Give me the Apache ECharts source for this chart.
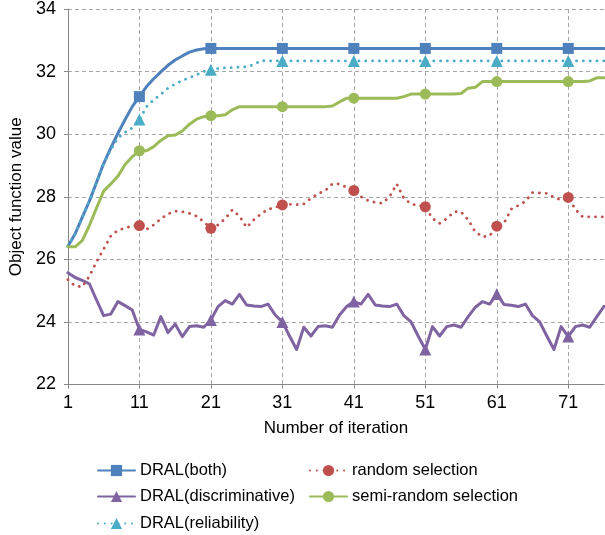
<!DOCTYPE html>
<html>
<head>
<meta charset="utf-8">
<script src="https://cdn.jsdelivr.net/npm/echarts@6/dist/echarts.min.js"></script>
<style>
html,body{margin:0;padding:0;background:#fff;}
#chart{width:605px;height:535px;}
</style>
</head>
<body>
<div id="chart"></div>
<script>
const iterations = ['1','2','3','4','5','6','7','8','9','10',
  '11','12','13','14','15','16','17','18','19','20',
  '21','22','23','24','25','26','27','28','29','30',
  '31','32','33','34','35','36','37','38','39','40',
  '41','42','43','44','45','46','47','48','49','50',
  '51','52','53','54','55','56','57','58','59','60',
  '61','62','63','64','65','66','67','68','69','70',
  '71','72','73','74','75','76'];

const dralBoth = [26.42, 26.81, 27.34, 27.86, 28.46, 29.06, 29.56, 30.03, 30.47, 30.88,
  31.2, 31.52, 31.77, 31.99, 32.2, 32.37, 32.5, 32.62, 32.69, 32.73,
  32.74, 32.74, 32.74, 32.74, 32.74, 32.74, 32.74, 32.74, 32.74, 32.74,
  32.74, 32.74, 32.74, 32.74, 32.74, 32.74, 32.74, 32.74, 32.74, 32.74,
  32.74, 32.74, 32.74, 32.74, 32.74, 32.74, 32.74, 32.74, 32.74, 32.74,
  32.74, 32.74, 32.74, 32.74, 32.74, 32.74, 32.74, 32.74, 32.74, 32.74,
  32.74, 32.74, 32.74, 32.74, 32.74, 32.74, 32.74, 32.74, 32.74, 32.74,
  32.74, 32.74, 32.74, 32.74, 32.74, 32.74];

const dralDiscriminative = [25.57, 25.42, 25.33, 25.22, 24.7, 24.2, 24.25, 24.65, 24.52, 24.38,
  23.76, 23.68, 23.58, 24.17, 23.66, 23.93, 23.53, 23.85, 23.88, 23.83,
  24.06, 24.49, 24.68, 24.57, 24.88, 24.54, 24.51, 24.49, 24.57, 24.22,
  24.0, 23.55, 23.12, 23.83, 23.55, 23.85, 23.88, 23.83, 24.22, 24.49,
  24.65, 24.57, 24.88, 24.54, 24.51, 24.49, 24.57, 24.2, 24.0, 23.55,
  23.12, 23.85, 23.55, 23.85, 23.9, 23.83, 24.17, 24.47, 24.65, 24.57,
  24.89, 24.56, 24.53, 24.49, 24.57, 24.2, 24.0, 23.55, 23.12, 23.85,
  23.53, 23.85, 23.9, 23.83, 24.17, 24.5];

const dralReliability = [26.42, 26.81, 27.34, 27.86, 28.46, 29.06, 29.5, 29.88, 30.06, 30.2,
  30.47, 30.88, 31.1, 31.27, 31.47, 31.6, 31.72, 31.8, 31.9, 32.0,
  32.06, 32.1, 32.12, 32.13, 32.14, 32.15, 32.22, 32.35, 32.34, 32.34,
  32.34, 32.34, 32.34, 32.34, 32.34, 32.34, 32.34, 32.34, 32.34, 32.34,
  32.34, 32.34, 32.34, 32.34, 32.34, 32.34, 32.34, 32.34, 32.34, 32.34,
  32.34, 32.34, 32.34, 32.34, 32.34, 32.34, 32.34, 32.34, 32.34, 32.34,
  32.34, 32.34, 32.34, 32.34, 32.34, 32.34, 32.34, 32.34, 32.34, 32.34,
  32.34, 32.34, 32.34, 32.34, 32.34, 32.34];

const randomSelection = [25.35, 25.15, 25.12, 25.46, 25.92, 26.33, 26.75, 26.93, 27.0, 27.07,
  27.08, 26.96, 27.1, 27.3, 27.45, 27.54, 27.52, 27.47, 27.38, 27.2,
  26.99, 27.1, 27.3, 27.58, 27.38, 27.02, 27.26, 27.45, 27.6, 27.66,
  27.74, 27.76, 27.75, 27.77, 27.95, 28.1, 28.2, 28.41, 28.41, 28.3,
  28.2, 28.0, 27.88, 27.82, 27.79, 28.0, 28.41, 27.95, 27.77, 27.72,
  27.68, 27.31, 27.15, 27.3, 27.52, 27.52, 27.26, 26.88, 26.72, 26.75,
  27.06, 27.15, 27.6, 27.72, 27.85, 28.13, 28.12, 28.11, 27.98, 27.9,
  27.98, 27.6, 27.36, 27.36, 27.36, 27.36];

const semiRandomSelection = [26.4, 26.4, 26.6, 27.08, 27.64, 28.18, 28.41, 28.66, 29.03, 29.28,
  29.47, 29.47, 29.6, 29.8, 29.95, 29.97, 30.1, 30.32, 30.48, 30.56,
  30.59, 30.59, 30.62, 30.78, 30.88, 30.88, 30.88, 30.88, 30.88, 30.88,
  30.88, 30.88, 30.88, 30.88, 30.88, 30.88, 30.88, 30.9, 31.03, 31.15,
  31.15, 31.15, 31.15, 31.15, 31.15, 31.15, 31.15, 31.2, 31.28, 31.28,
  31.28, 31.28, 31.28, 31.28, 31.28, 31.3, 31.47, 31.5, 31.68, 31.68,
  31.68, 31.68, 31.68, 31.68, 31.68, 31.68, 31.68, 31.68, 31.68, 31.68,
  31.68, 31.68, 31.68, 31.7, 31.8, 31.8];

const yTicks = [22, 24, 26, 28, 30, 32, 34];

const FONT = "'Liberation Sans', Arial, sans-serif";

function withMarkers(values) {
  return values.map(function (v, i) {
    return (i > 0 && i % 10 === 0) ? v : { value: v, symbol: 'none' };
  });
}

function lineSeries(name, values, color, symbol, size, dotted) {
  return {
    name: name,
    type: 'line',
    data: withMarkers(values),
    symbol: symbol,
    symbolSize: size,
    showAllSymbol: true,
    smooth: false,
    itemStyle: { color: color, borderWidth: 0 },
    lineStyle: dotted
      ? { color: color, width: 2.8, type: [0.1, 6.7], cap: 'round' }
      : { color: color, width: 3, cap: 'round', join: 'round' },
    emphasis: { disabled: true },
    animation: false
  };
}

const chart = echarts.init(document.getElementById('chart'), null, { renderer: 'canvas' });

function legendAt(name, left, top) {
  return {
    data: [name],
    left: left,
    top: top,
    padding: 0,
    itemWidth: 37,
    itemHeight: 14,
    itemGap: 0,
    selectedMode: false,
    textStyle: { fontFamily: FONT, fontSize: 16.5, color: '#000', lineHeight: 14, padding: [0, 0, 0, 0] }
  };
}

chart.setOption({
  backgroundColor: '#fff',
  animation: false,
  textStyle: { fontFamily: FONT },
  grid: { left: 61, top: 9, right: 1, bottom: 150.5, containLabel: false },
  legend: [
    legendAt('DRAL(both)', 97, 462),
    legendAt('random selection', 309, 462),
    legendAt('DRAL(discriminative)', 97, 488),
    legendAt('semi-random selection', 309, 488),
    legendAt('DRAL(reliability)', 97, 515)
  ],
  xAxis: {
    type: 'category',
    data: iterations,
    boundaryGap: false,
    name: 'Number of iteration',
    nameLocation: 'middle',
    nameGap: 35,
    nameTextStyle: { fontFamily: FONT, fontSize: 17, color: '#000' },
    axisLine: { show: true, lineStyle: { color: '#868686', width: 1 } },
    axisTick: { show: true, interval: 9, length: 4, lineStyle: { color: '#868686' } },
    axisLabel: { interval: 9, margin: 10, fontFamily: FONT, fontSize: 18, color: '#000' },
    splitLine: { show: true, interval: 9, lineStyle: { color: '#a6a6a6', width: 1, type: [4, 3] } }
  },
  yAxis: {
    type: 'value',
    min: yTicks[0],
    max: yTicks[yTicks.length - 1],
    interval: 2,
    name: 'Object function value',
    nameLocation: 'middle',
    nameGap: 38,
    nameTextStyle: { fontFamily: FONT, fontSize: 17, color: '#000' },
    axisLine: { show: true, lineStyle: { color: '#868686', width: 1 } },
    axisTick: { show: true, length: 4, lineStyle: { color: '#868686' } },
    axisLabel: { margin: 12, fontFamily: FONT, fontSize: 18, color: '#000' },
    splitLine: { show: true, lineStyle: { color: '#a6a6a6', width: 1, type: [4, 3] } }
  },
  series: [
    lineSeries('DRAL(both)', dralBoth, '#4F81BD', 'rect', 11, false),
    lineSeries('DRAL(discriminative)', dralDiscriminative, '#8064A2', 'triangle', 12, false),
    lineSeries('DRAL(reliability)', dralReliability, '#4BACC6', 'triangle', 12, true),
    lineSeries('random selection', randomSelection, '#C0504D', 'circle', 11, true),
    lineSeries('semi-random selection', semiRandomSelection, '#9BBB59', 'circle', 11, false)
  ]
});
</script>
</body>
</html>
